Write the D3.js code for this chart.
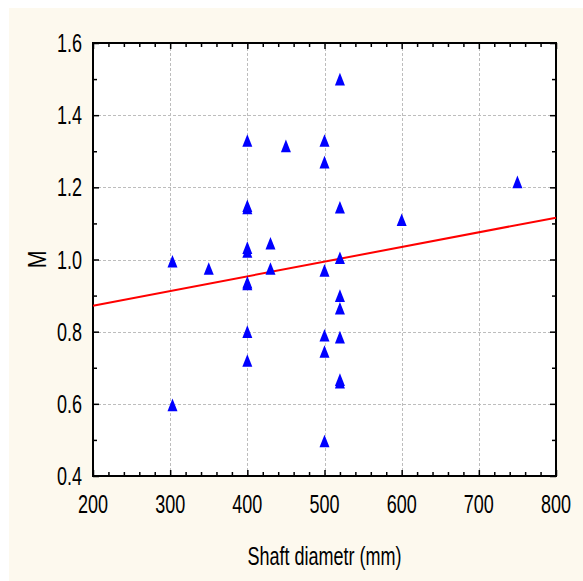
<!DOCTYPE html>
<html>
<head>
<meta charset="utf-8">
<script src="https://cdn.jsdelivr.net/npm/d3@7"></script>
<style>
  html, body { margin: 0; padding: 0; background: #ffffff; }
  svg { display: block; }
  text { font-family: "Liberation Sans", Arial, sans-serif; fill: #000; }
</style>
</head>
<body>
<script>
// Shaft diameter (mm) against M, with a linear fit
const shaftDiameter = [303, 303, 350,
  400, 400, 400, 400, 400, 400, 400, 400, 400,
  430, 430, 450,
  500, 500, 500, 500, 500, 500,
  520, 520, 520, 520, 520, 520, 520, 520,
  600, 750];
const mValues = [0.995, 0.597, 0.975,
  1.33, 1.149, 1.143, 1.033, 1.022, 0.937, 0.932, 0.80, 0.72,
  1.045, 0.975, 1.315,
  1.33, 1.27, 0.97, 0.79, 0.745, 0.497,
  1.50, 1.145, 1.005, 0.90, 0.865, 0.785, 0.667, 0.660,
  1.11, 1.215];
// fitted line, end points
const fitX = [200, 800];
const fitY = [0.872, 1.116];

const xTicks = [200, 300, 400, 500, 600, 700, 800];
const yTicks = [0.4, 0.6, 0.8, 1.0, 1.2, 1.4, 1.6];
const xMinor = d3.range(200, 801, 20);
const yMinor = d3.range(4, 17).map(v => v / 10);

const W = 583, H = 581;
const L = 93, R = 556, T = 43, B = 476;

const svg = d3.select("body").append("svg").attr("width", W).attr("height", H);

// panel background
svg.append("rect").attr("x", 9).attr("y", 8).attr("width", W - 9).attr("height", H - 8)
  .attr("fill", "#fdf9ee");
svg.append("rect").attr("x", L).attr("y", T).attr("width", R - L).attr("height", B - T)
  .attr("fill", "#ffffff");

const x = d3.scaleLinear().domain([200, 800]).range([L, R]);
const y = d3.scaleLinear().domain([0.4, 1.6]).range([B, T]);

// dashed grid
const grid = svg.append("g").attr("stroke", "#bdbdbd").attr("stroke-width", 1)
  .attr("stroke-dasharray", "3,2");
grid.selectAll("line.gx").data(xTicks.slice(1, -1)).join("line")
  .attr("x1", d => Math.round(x(d)) + 0.5).attr("x2", d => Math.round(x(d)) + 0.5)
  .attr("y1", T).attr("y2", B);
grid.selectAll("line.gy").data(yTicks.slice(1, -1)).join("line")
  .attr("y1", d => Math.round(y(d)) + 0.5).attr("y2", d => Math.round(y(d)) + 0.5)
  .attr("x1", L).attr("x2", R);

// inward tick marks on all four sides
function ticks(axisFn, scale, vals, size, tr) {
  const g = svg.append("g").attr("transform", tr)
    .call(axisFn(scale).tickValues(vals).tickSize(size).tickSizeOuter(0).tickFormat(""));
  g.select(".domain").remove();
  g.selectAll(".tick line").attr("stroke", "#000").attr("stroke-width", 1.5);
}
const xMin = xMinor.filter(v => !xTicks.includes(v));
const yMin = yMinor.filter(v => !yTicks.some(t => Math.abs(t - v) < 1e-9));
ticks(d3.axisBottom, x, xMin, -4, `translate(0,${B})`);
ticks(d3.axisBottom, x, xTicks, -6, `translate(0,${B})`);
ticks(d3.axisTop, x, xMin, -4, `translate(0,${T})`);
ticks(d3.axisTop, x, xTicks, -6, `translate(0,${T})`);
ticks(d3.axisLeft, y, yMin, -4, `translate(${L},0)`);
ticks(d3.axisLeft, y, yTicks, -6, `translate(${L},0)`);
ticks(d3.axisRight, y, yMin, -4, `translate(${R},0)`);
ticks(d3.axisRight, y, yTicks, -6, `translate(${R},0)`);

// frame
svg.append("rect").attr("x", L).attr("y", T).attr("width", R - L).attr("height", B - T)
  .attr("fill", "none").attr("stroke", "#000").attr("stroke-width", 2);

// tick labels (narrow face)
const sx = 0.72;
svg.append("g").selectAll("text").data(xTicks).join("text")
  .attr("transform", d => `translate(${x(d)},513) scale(${sx},1)`)
  .attr("text-anchor", "middle").attr("font-size", 25)
  .text(d => d);
svg.append("g").selectAll("text").data(yTicks).join("text")
  .attr("transform", d => `translate(82,${y(d) + 9}) scale(${sx},1)`)
  .attr("text-anchor", "end").attr("font-size", 25)
  .text(d => d.toFixed(1));

// axis titles
svg.append("text")
  .attr("transform", `translate(${(L + R) / 2},565) scale(${sx},1)`)
  .attr("text-anchor", "middle").attr("font-size", 25)
  .text("Shaft diametr (mm)");
svg.append("text")
  .attr("transform", `translate(46,${(T + B) / 2}) rotate(-90) scale(0.85,1)`)
  .attr("text-anchor", "middle").attr("font-size", 25)
  .text("M");

// fit line
const line = d3.line().x(d => x(d[0])).y(d => y(d[1]));
svg.append("path").datum(d3.zip(fitX, fitY))
  .attr("d", line).attr("fill", "none").attr("stroke", "#ff0000").attr("stroke-width", 2);

// triangle markers
const tri = "M0,-6.3L5,6.3L-5,6.3Z";
svg.append("g").selectAll("path").data(d3.zip(shaftDiameter, mValues)).join("path")
  .attr("transform", d => `translate(${x(d[0])},${y(d[1])})`)
  .attr("d", tri).attr("fill", "#0000ff");
</script>
</body>
</html>
